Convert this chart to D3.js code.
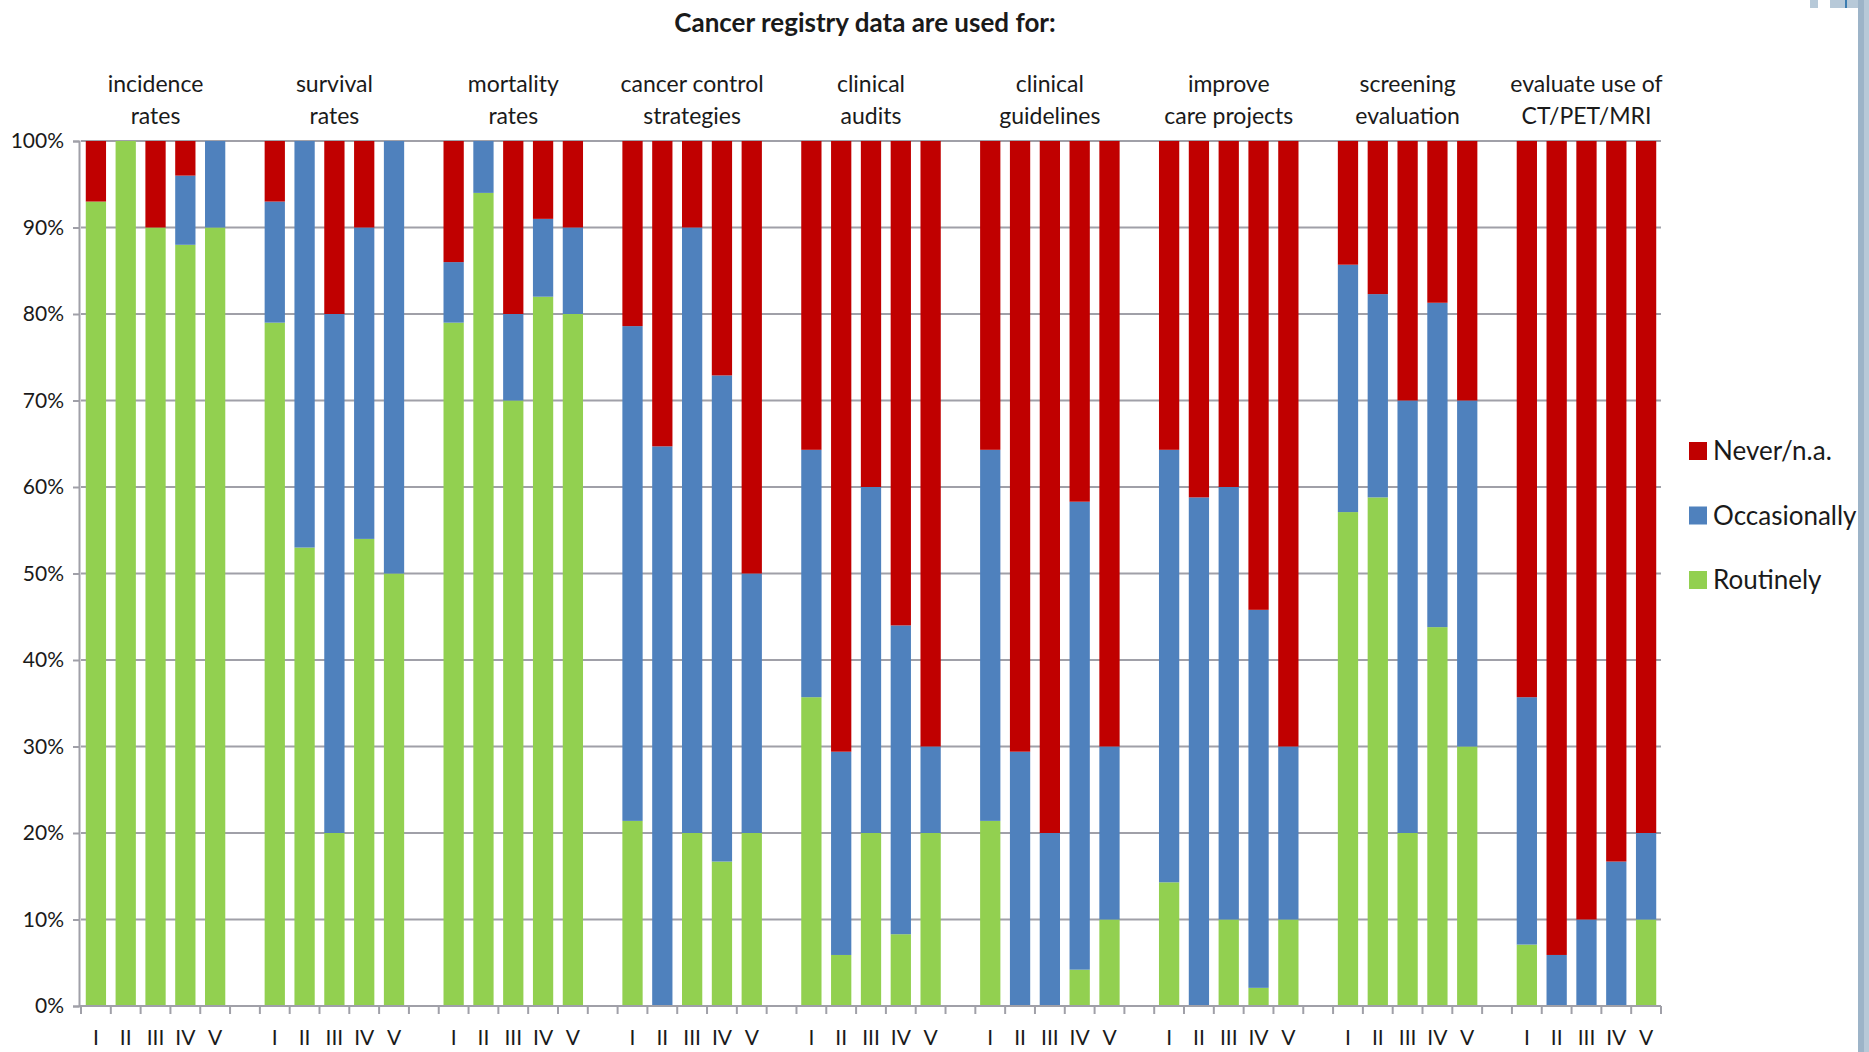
<!DOCTYPE html>
<html>
<head>
<meta charset="utf-8">
<script src="https://cdn.jsdelivr.net/npm/d3@7"></script>
<style>
  body { margin: 0; background: #fff; }
  svg text { font-family: Lato, "Open Sans", sans-serif; fill: #1a1a1a; }
</style>
</head>
<body>
<div id="chart"></div>
<script>
// categories (two lines each) and stages
let groups = [
  ["incidence", "rates"],
  ["survival", "rates"],
  ["mortality", "rates"],
  ["cancer control", "strategies"],
  ["clinical", "audits"],
  ["clinical", "guidelines"],
  ["improve", "care projects"],
  ["screening", "evaluation"],
  ["evaluate use of", "CT/PET/MRI"]
];
let stages = ["I", "II", "III", "IV", "V"];

// % per group, stage I..V
let routinely = [
  93, 100, 90, 88, 90,
  79, 53, 20, 54, 50,
  79, 94, 70, 82, 80,
  21.4, 0, 20, 16.7, 20,
  35.7, 5.9, 20, 8.3, 20,
  21.4, 0, 0, 4.2, 10,
  14.3, 0, 10, 2.1, 10,
  57.1, 58.8, 20, 43.8, 30,
  7.1, 0, 0, 0, 10
];
let occasionally = [
  0, 0, 0, 8, 10,
  14, 47, 60, 36, 50,
  7, 6, 10, 9, 10,
  57.2, 64.7, 70, 56.2, 30,
  28.6, 23.5, 40, 35.7, 10,
  42.9, 29.4, 20, 54.1, 20,
  50, 58.8, 50, 43.7, 20,
  28.6, 23.5, 50, 37.5, 40,
  28.6, 5.9, 10, 16.7, 10
];
let never = [
  7, 0, 10, 4, 0,
  7, 0, 20, 10, 0,
  14, 0, 20, 9, 10,
  21.4, 35.3, 10, 27.1, 50,
  35.7, 70.6, 40, 56, 70,
  35.7, 70.6, 80, 41.7, 70,
  35.7, 41.2, 40, 54.2, 70,
  14.3, 17.7, 30, 18.7, 30,
  64.3, 94.1, 90, 83.3, 80
];
let seriesNames = ["Routinely", "Occasionally", "Never/n.a."];
let yTicks = [0, 10, 20, 30, 40, 50, 60, 70, 80, 90, 100];

let colors = {"Routinely": "#92D050", "Occasionally": "#4F81BD", "Never/n.a.": "#C00000"};

// build rows: 5 stages per group plus an empty slot between groups
let rows = [];
let slots = [];
groups.forEach(function(g, gi) {
  stages.forEach(function(s, si) {
    let k = gi * 5 + si;
    let id = gi + "-" + s;
    slots.push(id);
    rows.push({id: id, group: gi, stage: s,
      "Routinely": routinely[k], "Occasionally": occasionally[k], "Never/n.a.": never[k]});
  });
  if (gi < groups.length - 1) slots.push("gap" + gi);
});

let svg = d3.select("#chart").append("svg").attr("width", 1869).attr("height", 1052);

let plotLeft = 81, plotRight = 1661, plotTop = 141, plotBottom = 1006;

let x = d3.scaleBand().domain(slots).range([plotLeft, plotRight]).paddingInner(0.32).paddingOuter(0.16);
let y = d3.scaleLinear().domain([0, 100]).range([plotBottom, plotTop]);

// gridlines
svg.append("g")
  .selectAll("line")
  .data(yTicks.filter(d => d > 0))
  .enter().append("line")
  .attr("x1", plotLeft).attr("x2", plotRight)
  .attr("y1", d => y(d)).attr("y2", d => y(d))
  .attr("stroke", "#a0a0a8").attr("stroke-width", 2);

// stacked bars
let stack = d3.stack().keys(seriesNames)(rows);
svg.append("g")
  .selectAll("g")
  .data(stack)
  .enter().append("g")
  .attr("fill", d => colors[d.key])
  .selectAll("rect")
  .data(d => d)
  .enter().append("rect")
  .attr("x", d => x(d.data.id))
  .attr("width", x.bandwidth())
  .attr("y", d => y(d[1]))
  .attr("height", d => y(d[0]) - y(d[1]));

// y axis
let yAxis = svg.append("g")
  .attr("transform", `translate(${plotLeft - 2},0)`)
  .call(d3.axisLeft(y).tickValues(yTicks).tickFormat(d => d + "%").tickSize(6).tickPadding(9));
yAxis.select(".domain").attr("stroke", "#a0a0a8").attr("stroke-width", 2);
yAxis.selectAll(".tick line").attr("stroke", "#a0a0a8").attr("stroke-width", 2);
yAxis.selectAll(".tick text").style("font-size", "21px").attr("fill", "#1a1a1a");

// x axis: baseline + tick marks between categories
svg.append("line")
  .attr("x1", plotLeft - 2).attr("x2", plotRight)
  .attr("y1", plotBottom).attr("y2", plotBottom)
  .attr("stroke", "#a0a0a8").attr("stroke-width", 2);

let bounds = slots.map(s => x(s) - x.step() * x.paddingInner() / 2);
bounds.push(plotRight);
svg.append("g")
  .selectAll("line")
  .data(bounds)
  .enter().append("line")
  .attr("x1", d => d).attr("x2", d => d)
  .attr("y1", plotBottom).attr("y2", plotBottom + 8)
  .attr("stroke", "#a0a0a8").attr("stroke-width", 2);

svg.append("g")
  .selectAll("text")
  .data(rows)
  .enter().append("text")
  .attr("x", d => x(d.id) + x.bandwidth() / 2)
  .attr("y", 1045)
  .attr("text-anchor", "middle")
  .style("font-size", "21px")
  .text(d => d.stage);

// group headers, centred over stage III
let head = svg.append("g")
  .selectAll("text")
  .data(groups)
  .enter().append("text")
  .attr("text-anchor", "middle")
  .style("font-size", "23px");
head.append("tspan")
  .attr("x", (d, i) => x(i + "-III") + x.bandwidth() / 2)
  .attr("y", 92)
  .text(d => d[0]);
head.append("tspan")
  .attr("x", (d, i) => x(i + "-III") + x.bandwidth() / 2)
  .attr("y", 124)
  .text(d => d[1]);

// title
svg.append("text")
  .attr("x", 865).attr("y", 32)
  .attr("text-anchor", "middle")
  .style("font-size", "26px").style("font-weight", "bold")
  .text("Cancer registry data are used for:");

// legend
let legend = svg.append("g")
  .selectAll("g")
  .data(seriesNames.slice().reverse())
  .enter().append("g")
  .attr("transform", (d, i) => `translate(1689,${442 + i * 64.5})`);
legend.append("rect")
  .attr("width", 18).attr("height", 18)
  .attr("fill", d => colors[d]);
legend.append("text")
  .attr("x", 24).attr("y", 18)
  .style("font-size", "26px")
  .text(d => d);

// slide frame on the right
svg.append("rect").attr("x", 1858).attr("y", 0).attr("width", 6).attr("height", 1052).attr("fill", "#9db4c8");
svg.append("rect").attr("x", 1864).attr("y", 0).attr("width", 5).attr("height", 1052).attr("fill", "#b7c9d8");
svg.append("rect").attr("x", 1810).attr("y", 0).attr("width", 8).attr("height", 8).attr("fill", "#b7c9d8");
svg.append("rect").attr("x", 1830).attr("y", 0).attr("width", 15).attr("height", 8).attr("fill", "#b7c9d8");
svg.append("rect").attr("x", 1845).attr("y", 0).attr("width", 2).attr("height", 8).attr("fill", "#3c7db0");
svg.append("rect").attr("x", 1847).attr("y", 0).attr("width", 11).attr("height", 8).attr("fill", "#b7c9d8");
</script>
</body>
</html>
